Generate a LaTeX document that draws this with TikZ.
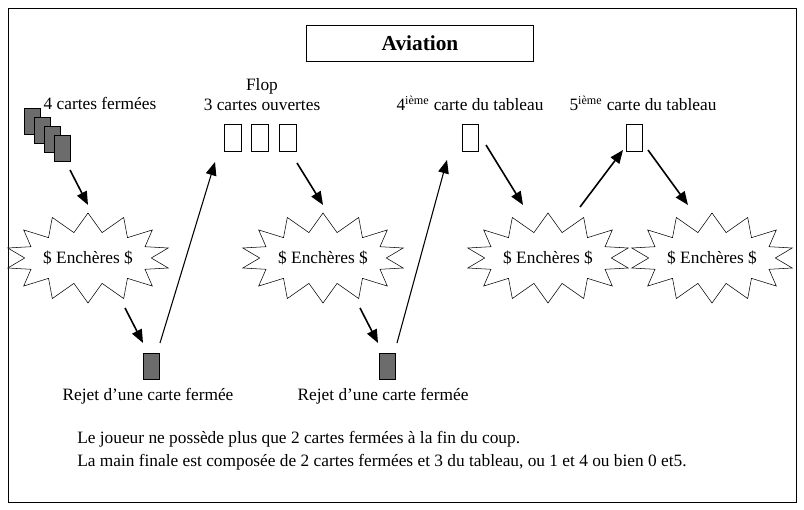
\documentclass[tikz,border=0pt]{standalone}
\usepackage{fontspec}
\setmainfont{Liberation Serif}
\usetikzlibrary{shapes.symbols,arrows.meta}
\tikzset{
  closed/.style ={draw, fill=gray!85!black, minimum width=12pt, minimum height=19.5pt, inner sep=0pt},
  open/.style   ={draw, fill=white, minimum width=12.75pt, minimum height=20.25pt, inner sep=0pt},
  burst/.style  ={starburst, starburst points=14, random starburst=0, draw, fill=white,
                  minimum width=111pt, minimum height=67.5pt, inner sep=0pt, font=\fontsize{13}{15}\selectfont},
  lbl/.style    ={font=\fontsize{13}{15}\selectfont, inner sep=0pt, align=center},
  arrow/.style  ={-{Triangle[length=10pt,width=8pt]}, line width=1.2pt},
  lonely/.style ={-{Triangle[length=10pt,width=8pt]}, line width=0.8pt}
}
\begin{document}
\begin{tikzpicture}[x=0.75pt, y=-0.75pt]
  \useasboundingbox (0,0) rectangle (804,510);
  \draw (8,8) rectangle (796,502);
  % title
  \node[draw, minimum width=170pt, minimum height=27pt, font=\fontsize{16}{18}\selectfont\bfseries] (title) at (420,43) {Aviation};
  % hand
  \foreach \i in {0,...,3}
    \node[closed] (h\i) at (32+10*\i,121+9*\i) {};
  \node[lbl] (hand) at (100,103) {4 cartes fermées};
  % flop
  \node[lbl] (flop) at (262,95) {Flop\\3 cartes ouvertes};
  \node[open] (f1) at (233,138) {};
  \node[open] (f2) at (260,138) {};
  \node[open] (f3) at (288,138) {};
  % turn and river
  \node[lbl] (turnl) at (470,103) {4\textsuperscript{ième} carte du tableau};
  \node[open, minimum width=12pt] (turn) at (470,138) {};
  \node[lbl] (riverl) at (643,103) {5\textsuperscript{ième} carte du tableau};
  \node[open, minimum width=12pt] (river) at (634,138) {};
  % bidding rounds
  \node[burst] (b1) at (88,258) {\$ Enchères \$};
  \node[burst] (b2) at (323,258) {\$ Enchères \$};
  \node[burst] (b3) at (548,258) {\$ Enchères \$};
  \node[burst] (b4) at (712,258) {\$ Enchères \$};
  % discards
  \node[closed] (d1) at (151,366) {};
  \node[lbl] (d1l) at (148,396) {Rejet d’une carte fermée};
  \node[closed] (d2) at (387,366) {};
  \node[lbl] (d2l) at (383,396) {Rejet d’une carte fermée};
  % arrows
  \draw[arrow] (70,170) -- (88,205);
  \draw[arrow] (125,308) -- (143,343);
  \draw[lonely] (160,343) -- (215,162);
  \draw[arrow] (297,163) -- (323,205);
  \draw[arrow] (360,308) -- (378,343);
  \draw[lonely] (397,343) -- (447,160);
  \draw[arrow] (486,145) -- (523,205);
  \draw[arrow] (580,207) -- (623,150);
  \draw[arrow] (648,150) -- (688,205);
  % notes
  \node[lbl, anchor=west, align=left] (note) at (77,451)
    {Le joueur ne possède plus que 2 cartes fermées à la fin du coup.\\[2pt]
     La main finale est composée de 2 cartes fermées et 3 du tableau, ou 1 et 4 ou bien 0 et5.};
\end{tikzpicture}
\end{document}
